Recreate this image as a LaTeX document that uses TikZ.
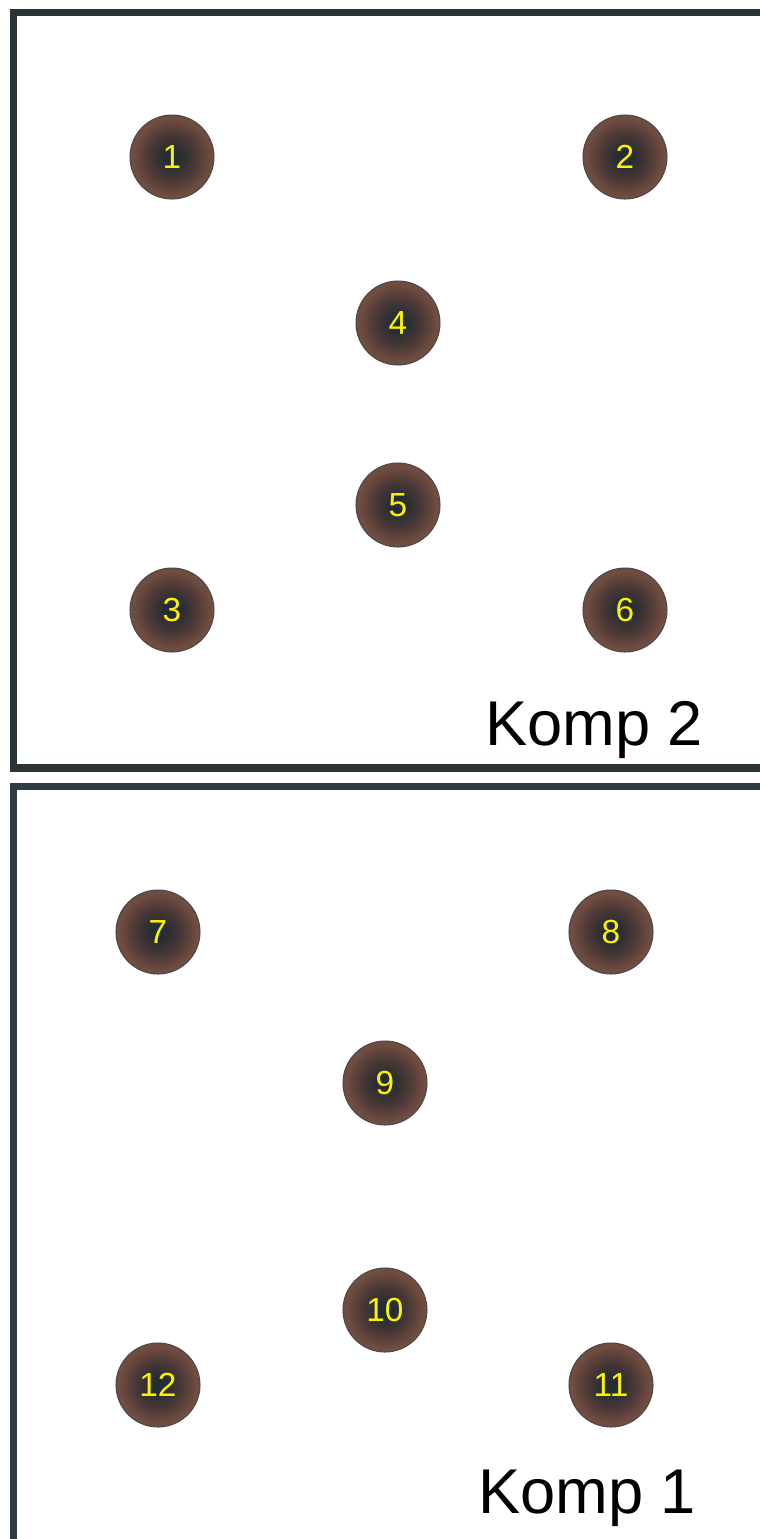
\documentclass[tikz,border=0pt]{standalone}
\usepackage{fontspec}
\setmainfont{Liberation Sans}
\usetikzlibrary{arrows.meta}
\definecolor{frametop}{HTML}{2B3337}
\definecolor{framebot}{HTML}{2E3C44}
\definecolor{ballin}{HTML}{242D32}
\definecolor{ballmid}{HTML}{4A3836}
\definecolor{ballout}{HTML}{714C40}
\definecolor{ballrim}{HTML}{4A4A4A}
\pgfdeclareradialshading{ballshade}{\pgfpoint{0bp}{0bp}}{%
  color(0bp)=(ballin); color(4.5bp)=(ballin); color(14bp)=(ballmid);
  color(23bp)=(ballout); color(25bp)=(ballout); color(50bp)=(ballout)}
\tikzset{
  ball/.style={circle,minimum size=47.8pt,inner sep=0pt,draw=ballrim,line width=0.6pt,
    shading=ballshade,text=yellow,font=\fontsize{19}{19}\selectfont},
  komp/.style={font=\fontsize{36}{36}\selectfont,anchor=base}
}
\begin{document}
\begin{tikzpicture}[x=0.02cm,y=-0.02cm]
  \clip (0,0) rectangle (760,1539);
  \fill[white] (0,0) rectangle (760,1539);
  % upper compartment
  \draw[line width=4pt,draw=frametop] (13.5,12.5) rectangle (800,768);
  \node[ball] (n1) at (172,157){1};
  \node[ball] (n2) at (625,157){2};
  \node[ball] (n4) at (398,323){4};
  \node[ball] (n5) at (398,505){5};
  \node[ball] (n3) at (172,610){3};
  \node[ball] (n6) at (625,610){6};
  \node[komp] (komp2) at (594,745){Komp 2};
  % lower compartment
  \draw[line width=4pt,draw=framebot] (13.5,786.5) rectangle (800,1580);
  \node[ball] (n7) at (158,932){7};
  \node[ball] (n8) at (611,932){8};
  \node[ball] (n9) at (385,1083){9};
  \node[ball] (n10) at (385,1310){10};
  \node[ball] (n12) at (158,1385){12};
  \node[ball] (n11) at (611,1385){11};
  \node[komp] (komp1) at (587,1513){Komp 1};
\end{tikzpicture}
\end{document}
